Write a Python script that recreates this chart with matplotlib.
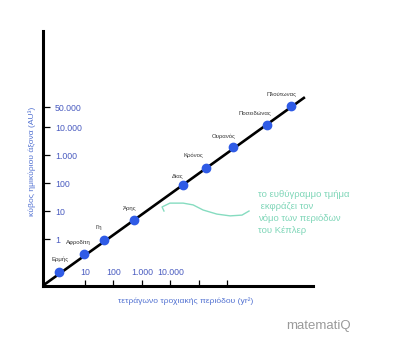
import matplotlib.pyplot as plt
from matplotlib.ticker import NullLocator

plt.rcParams['font.family'] = ['Liberation Sans', 'DejaVu Sans']

# planets as drawn in the sketch (log-log)
planets = ['Ερμής', 'Αφροδίτη', 'Γη', 'Άρης', 'Δίας', 'Κρόνος', 'Ουρανός', 'Ποσειδώνας', 'Πλούτωνας']
period_sq = [1.2, 9, 46, 520, 27000, 180000, 1.6e6, 2.5e7, 1.7e8]
axis_cube = [0.066, 0.29, 0.92, 4.8, 85, 340, 1900, 12000, 56000]

# the straight line of Kepler's law
line_x = [0.34, 5.2e8]
line_y = [0.022, 1.17e5]

x_ticks = [10, 100, 1000, 10000, 1e5, 1e6]
x_ticklabels = ['10', '100', '1.000', '10.000', '', '']
y_ticks = [1, 10, 100, 1000, 10000, 50000]
y_ticklabels = ['1', '10', '100', '1.000', '10.000', '50.000']

# label offsets in points (relative to each point)
label_dx = [1, -4, -4, -3, -4, -9, -7, -9, -7]
label_dy = [9, 8, 9, 8, 7, 9, 8, 9, 9]

# hand-drawn pointer curve, axes fraction
curve_x = [0.448, 0.441, 0.470, 0.519, 0.556, 0.593, 0.644, 0.693, 0.737, 0.763]
curve_y = [0.294, 0.310, 0.325, 0.325, 0.318, 0.298, 0.282, 0.275, 0.278, 0.294]

fig = plt.figure(figsize=(3.99, 3.56), dpi=100)
ax = fig.add_axes([43 / 399, 1 - 286 / 356, 270 / 399, 255 / 356])

ax.set_xscale('log')
ax.set_yscale('log')
ax.set_xlim(0.336, 1e9)
ax.set_ylim(0.021, 2.7e7)

ax.plot(line_x, line_y, color='black', lw=1.9, zorder=2, solid_capstyle='butt')
ax.plot(period_sq, axis_cube, 'o', color='#2f5be6', ms=6, zorder=3)

for name, x, y, dx, dy in zip(planets, period_sq, axis_cube, label_dx, label_dy):
    ax.annotate(name, (x, y), xytext=(dx, dy), textcoords='offset points',
                ha='center', va='center', fontsize=4.3, color='#333333')

for s in ['top', 'right']:
    ax.spines[s].set_visible(False)
for s in ['left', 'bottom']:
    ax.spines[s].set_linewidth(2.2)

ax.xaxis.set_minor_locator(NullLocator())
ax.yaxis.set_minor_locator(NullLocator())
ax.set_xticks(x_ticks)
ax.set_xticklabels(x_ticklabels)
ax.set_yticks(y_ticks)
ax.set_yticklabels(y_ticklabels)

ax.tick_params(axis='x', direction='in', length=4.5, width=0.9, pad=-6.5,
               labelsize=6.3, labelcolor='#4a5cc0')
ax.tick_params(axis='y', direction='in', length=5, width=0.9, pad=-8.5,
               labelsize=6.3, labelcolor='#4a5cc0')
for t in ax.get_xticklabels():
    t.set_verticalalignment('bottom')
for t in ax.get_yticklabels():
    t.set_horizontalalignment('left')

ax.set_xlabel('τετράγωνο τροχιακής περιόδου (yr²)', fontsize=6.1, color='#5473d2')
ax.xaxis.set_label_coords(0.53, -0.045)
ax.set_ylabel('κύβος ημικύριου άξονα (AU³)', fontsize=6.1, color='#5473d2')
ax.yaxis.set_label_coords(-0.025, 0.49)

ax.plot(curve_x, curve_y, color='#86dcc0', lw=1, transform=ax.transAxes, clip_on=False)
ax.text(0.796, 0.375, 'το ευθύγραμμο τμήμα\n εκφράζει τον\nνόμο των περιόδων\nτου Κέπλερ',
        transform=ax.transAxes, fontsize=6.8, color='#7fd6b8', va='top', ha='left',
        linespacing=1.4, clip_on=False)

fig.text(286 / 399, 1 - 326 / 356, 'matematiQ', fontsize=9.5, color='#9a9a9a', va='center')

fig.savefig('out.png', dpi=100)
